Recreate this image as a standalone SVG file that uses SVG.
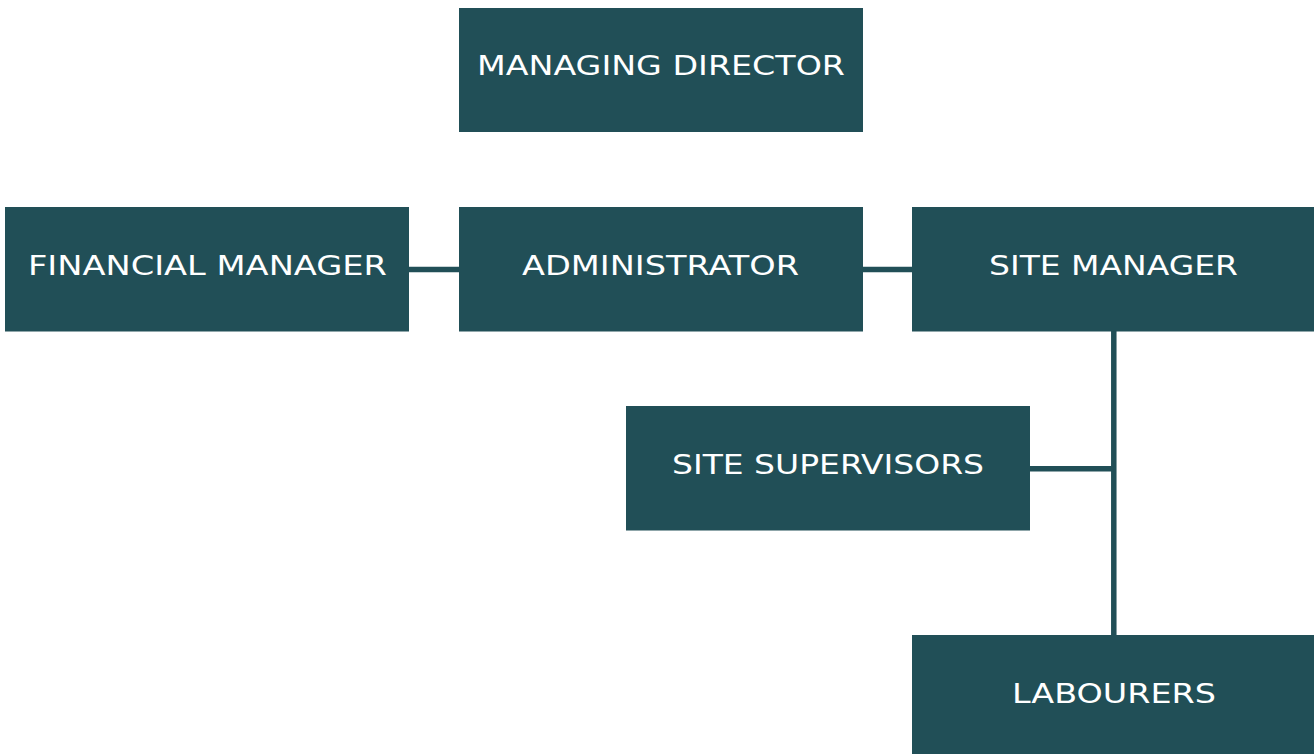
<svg xmlns="http://www.w3.org/2000/svg" width="1314" height="754" viewBox="0 0 1314 754">
<style>
.box{fill:#214f57}
.lbl{fill:#ffffff;font-family:"DejaVu Sans","Liberation Sans",sans-serif;font-size:27px;text-anchor:middle}
.conn{stroke:#214f57;stroke-width:5.5;fill:none}
</style>
<rect width="1314" height="754" fill="#ffffff"/>
<g id="connectors">
<line class="conn" x1="409" y1="269.5" x2="459" y2="269.5"/>
<line class="conn" x1="863" y1="269.5" x2="912" y2="269.5"/>
<line class="conn" x1="1113.8" y1="331" x2="1113.8" y2="635"/>
<line class="conn" x1="1030" y1="468.7" x2="1113.8" y2="468.7"/>
</g>
<g id="managing-director">
<rect class="box" x="459" y="8" width="404" height="124"/>
<text class="lbl" x="661" y="75" textLength="368" lengthAdjust="spacingAndGlyphs">MANAGING DIRECTOR</text>
</g>
<g id="financial-manager">
<rect class="box" x="5" y="207" width="404" height="124.5"/>
<text class="lbl" x="207.5" y="275" textLength="359" lengthAdjust="spacingAndGlyphs">FINANCIAL MANAGER</text>
</g>
<g id="administrator">
<rect class="box" x="459" y="207" width="404" height="124.5"/>
<text class="lbl" x="660.5" y="275" textLength="277" lengthAdjust="spacingAndGlyphs">ADMINISTRATOR</text>
</g>
<g id="site-manager">
<rect class="box" x="912" y="207" width="402" height="124.5"/>
<text class="lbl" x="1113.5" y="275" textLength="249" lengthAdjust="spacingAndGlyphs">SITE MANAGER</text>
</g>
<g id="site-supervisors">
<rect class="box" x="626" y="406" width="404" height="124.5"/>
<text class="lbl" x="828" y="474" textLength="312" lengthAdjust="spacingAndGlyphs">SITE SUPERVISORS</text>
</g>
<g id="labourers">
<rect class="box" x="912" y="635" width="402" height="119"/>
<text class="lbl" x="1114" y="703" textLength="204" lengthAdjust="spacingAndGlyphs">LABOURERS</text>
</g>
</svg>
